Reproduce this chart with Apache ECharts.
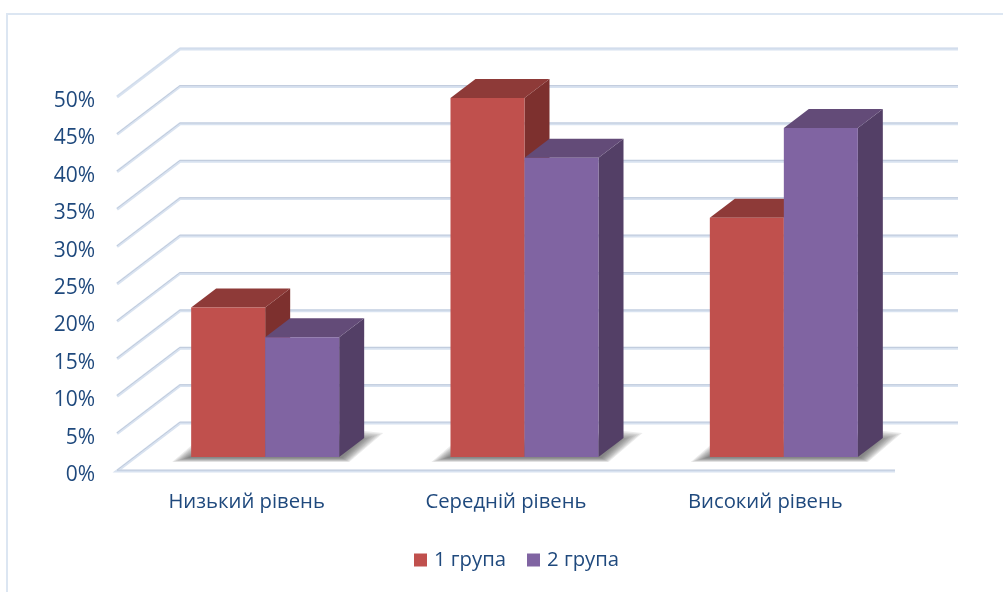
<!DOCTYPE html>
<html>
<head>
<meta charset="utf-8">
<style>html,body{margin:0;padding:0;background:#fff}#c{width:1003px;height:592px}</style>
<script src="https://cdn.jsdelivr.net/npm/echarts@6/dist/echarts.min.js"></script>
</head>
<body>
<div id="c"></div>
<script>
var categories = ['Низький рівень', 'Середній рівень', 'Високий рівень'];
var group1Values = [20, 48, 32];
var group2Values = [16, 40, 44];
var seriesNames = ['1 група', '2 група'];
var yTicks = [0, 5, 10, 15, 20, 25, 30, 35, 40, 45, 50];

var DEPTH_X = 63, DEPTH_Y = 48;      // wall depth
var BAR_DX = 18.5, BAR_DY = 14;      // bars' front-face offset in the depth
var SIDE_X = 25, SIDE_Y = 19;        // bar depth
var BAR_W = 74;
var SHADOW_LAYERS = 9;
var FONT = '"Open Sans", sans-serif', TEXT = '#1f497d';

var chart = echarts.init(document.getElementById('c'), null, {renderer: 'canvas'});

function gridLines(params, api) {
  var v = api.value(0), r = params.coordSys, y = api.coord([0, v])[1];
  var l = r.x, w = r.width;
  var pts = v === 0
    ? [[l + w, y], [l, y], [l + DEPTH_X, y - DEPTH_Y], [l + w + DEPTH_X, y - DEPTH_Y]]
    : [[l, y], [l + DEPTH_X, y - DEPTH_Y], [l + w + DEPTH_X, y - DEPTH_Y]];
  var top = pts.map(function (p) { return [p[0], p[1] - 0.8]; });
  return {type: 'group', children: [
    {type: 'polyline', shape: {points: pts}, style: {fill: 'none', stroke: '#d8e2f0', lineWidth: 3}},
    {type: 'polyline', shape: {points: top}, style: {fill: 'none', stroke: v === 50 ? '#d0dbea' : '#c0cbdc', lineWidth: 1}}
  ]};
}

// soft floor shadow: stacked translucent polygons between an outer and an inner outline
function floorShadow(params, api) {
  var c = api.coord([api.value(0), 0]);
  var x0 = c[0] + BAR_DX - BAR_W, x1 = c[0] + BAR_DX + BAR_W, y = c[1] - BAR_DY;
  var outer = [[x0 - 19, y + 5], [x0 + 2, y - 13], [x1 + 25, y - 26], [x1 + 44, y - 24], [x1 + 10, y + 5]];
  var inner = [[x0 - 4, y + 1], [x0 + 6, y - 4], [x1 + 14, y - 17], [x1 + 22, y - 17], [x1 + 3, y + 1]];
  var children = [];
  for (var k = 0; k < SHADOW_LAYERS; k++) {
    var t = k / (SHADOW_LAYERS - 1);
    children.push({type: 'polygon', shape: {points: outer.map(function (p, i) {
      return [p[0] + (inner[i][0] - p[0]) * t, p[1] + (inner[i][1] - p[1]) * t];
    })}, style: {fill: 'rgba(70,70,70,0.11)'}});
  }
  return {type: 'group', children: children};
}

function barRenderer(side, front, sideC, topC) {
  return function (params, api) {
    var cat = api.value(0), val = api.value(1);
    var base = api.coord([cat, 0]), top = api.coord([cat, val]);
    var x0 = base[0] + BAR_DX + (side === 0 ? -BAR_W : 0), x1 = x0 + BAR_W;
    var yb = base[1] - BAR_DY, yt = top[1] - BAR_DY;
    return {type: 'group', children: [
      {type: 'polygon', shape: {points: [[x1, yb], [x1 + SIDE_X, yb - SIDE_Y], [x1 + SIDE_X, yt - SIDE_Y], [x1, yt]]},
        style: {fill: sideC}},
      {type: 'polygon', shape: {points: [[x0, yt], [x0 + SIDE_X, yt - SIDE_Y], [x1 + SIDE_X, yt - SIDE_Y], [x1, yt]]},
        style: {fill: topC}},
      {type: 'rect', shape: {x: x0, y: yt, width: BAR_W, height: yb - yt},
        style: {fill: front}}
    ]};
  };
}

function pairs(vals) { return vals.map(function (v, i) { return [i, v]; }); }

chart.setOption({
  animation: false,
  backgroundColor: '#fff',
  graphic: [{type: 'rect', silent: true, z: -1,
    shape: {x: 7, y: 14, width: 1100, height: 700},
    style: {fill: 'none', stroke: '#dce6f2', lineWidth: 2}}],
  grid: {left: 117, right: 108, top: 97, bottom: 121, containLabel: false},
  xAxis: {type: 'category', data: categories,
    axisLine: {show: false}, axisTick: {show: false},
    axisLabel: {color: TEXT, fontFamily: FONT, fontSize: 20.3, margin: 21}},
  yAxis: {type: 'value', min: 0, max: 50, interval: 5,
    axisLine: {show: false}, axisTick: {show: false}, splitLine: {show: false},
    axisLabel: {color: TEXT, fontFamily: FONT, fontSize: 21, margin: 22, formatter: '{value}%', verticalAlign: 'top', lineHeight: 8}},
  legend: {data: seriesNames, left: 409, top: 545, icon: 'rect', itemWidth: 13, itemHeight: 13, itemGap: 21,
    textStyle: {color: TEXT, fontFamily: FONT, fontSize: 20.3, padding: [0, 0, 0, 2]}},
  series: [
    {type: 'custom', name: 'grid', silent: true, z: 1, clip: false, encode: {y: 0},
      coordinateSystem: 'cartesian2d', data: yTicks.map(function (t) { return [t]; }), renderItem: gridLines},
    {type: 'custom', name: 'shadow', silent: true, z: 2, clip: false,
      data: categories.map(function (c, i) { return [i]; }), encode: {x: 0}, renderItem: floorShadow},
    {type: 'custom', name: seriesNames[0], z: 3, clip: false, data: pairs(group1Values), encode: {x: 0, y: 1},
      itemStyle: {color: '#c0504d'}, renderItem: barRenderer(0, '#c0504d', '#7d302e', '#8e3a38')},
    {type: 'custom', name: seriesNames[1], z: 4, clip: false, data: pairs(group2Values), encode: {x: 0, y: 1},
      itemStyle: {color: '#8064a2'}, renderItem: barRenderer(1, '#8064a2', '#533f66', '#634b78')}
  ]
});
</script>
</body>
</html>
